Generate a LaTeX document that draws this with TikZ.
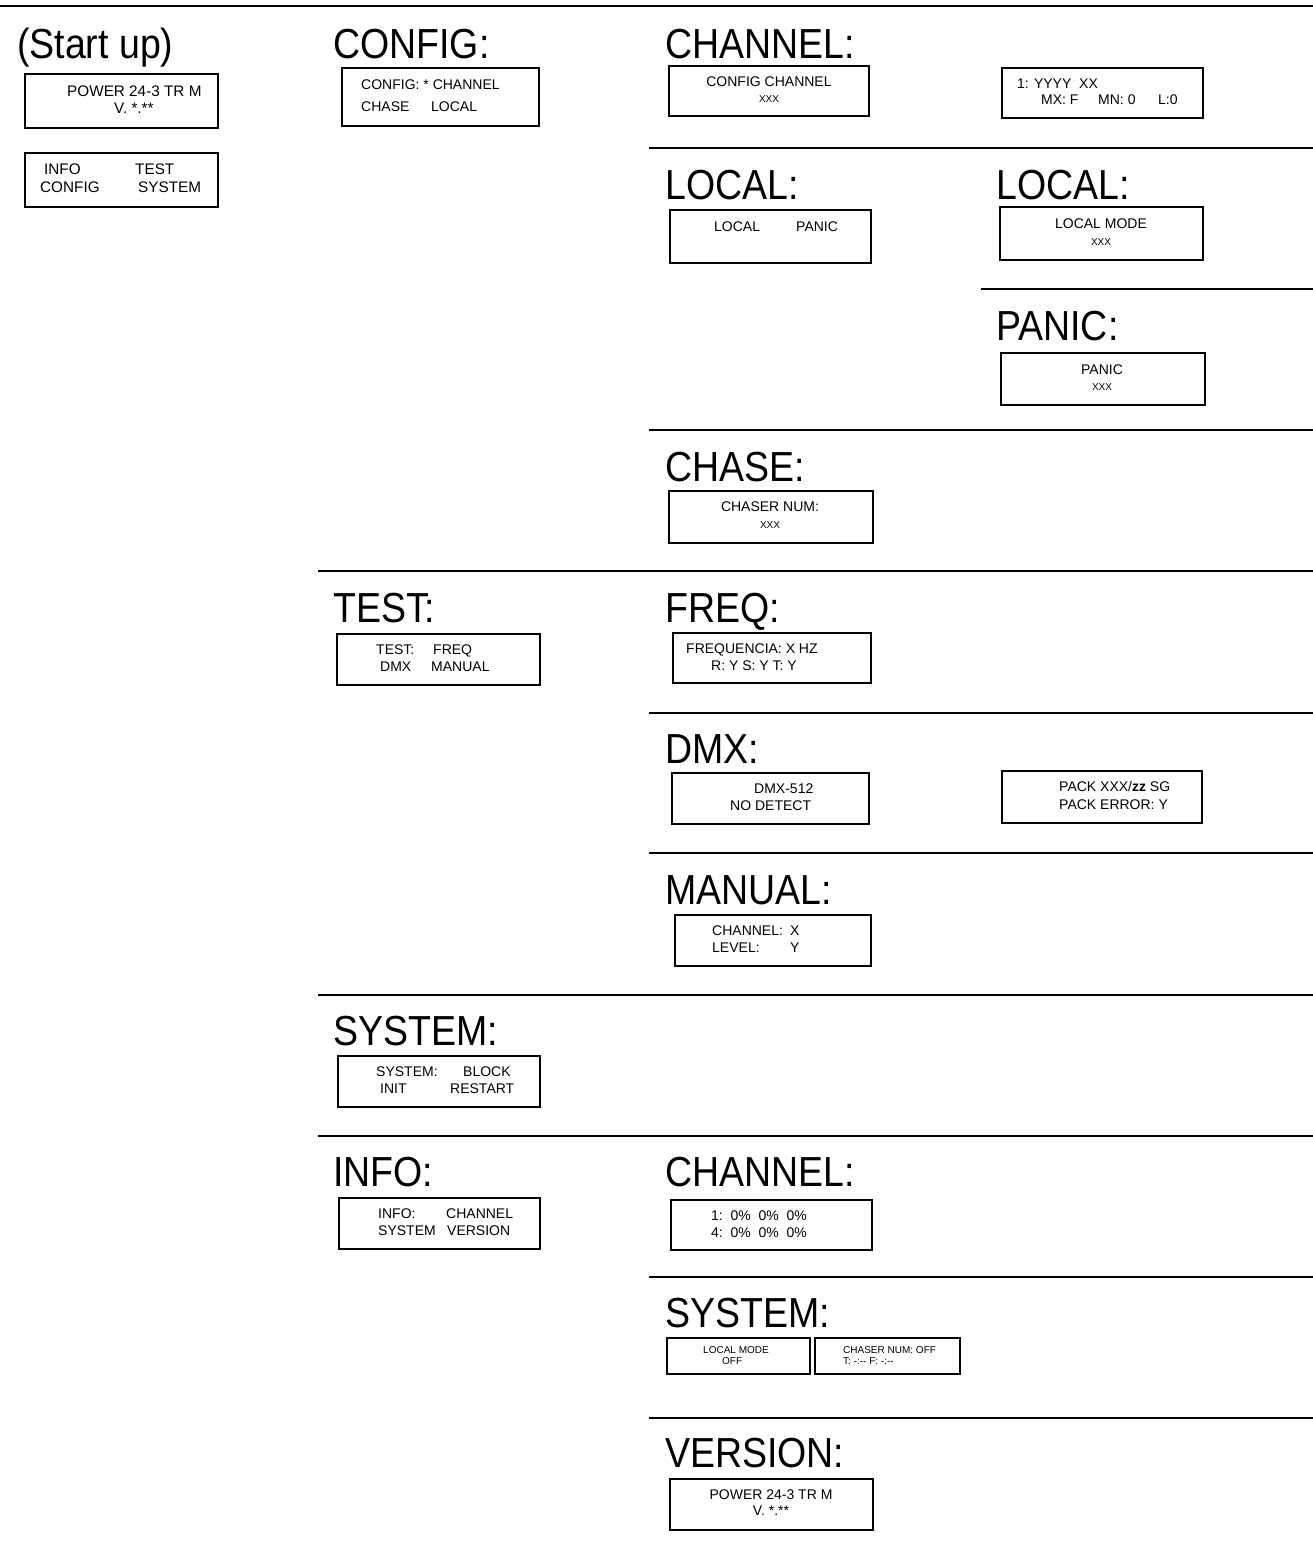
\documentclass[tikz,border=0pt]{standalone}
\usepackage{fontspec}
\setmainfont{Liberation Sans}
\usetikzlibrary{fit}
\newcommand\ttlfont{\fontsize{37.5}{40}\selectfont}
\newcommand\ttl[1]{\scalebox{1}[1.12]{#1}}
\tikzset{
  sepline/.style={line width=2pt},
  ttlnode/.style={anchor=base west, inner sep=0pt, font=\ttlfont},
  lcd/.style={draw, line width=1.6pt, inner sep=0pt},
  txt/.style={anchor=base west, inner sep=0pt, font=\fontsize{14}{14}\selectfont},
  txtc/.style={anchor=base, inner sep=0pt, font=\fontsize{14}{14}\selectfont},
  big/.style={font=\fontsize{15.3}{15}\selectfont},
  tiny/.style={font=\fontsize{10}{10}\selectfont},
  xs/.style={anchor=base, inner sep=0pt, font=\fontsize{10}{10}\selectfont},
}
\begin{document}
\begin{tikzpicture}[x=1pt,y=-1pt]
\useasboundingbox (0,0) rectangle (1313,1556);

% separator lines
\coordinate (s0a) at (0,6);      \coordinate (s0b) at (1313,6);
\coordinate (s1a) at (649,148);  \coordinate (s1b) at (1313,148);
\coordinate (s2a) at (981,289);  \coordinate (s2b) at (1313,289);
\coordinate (s3a) at (649,430);  \coordinate (s3b) at (1313,430);
\coordinate (s4a) at (318,571);  \coordinate (s4b) at (1313,571);
\coordinate (s5a) at (649,713);  \coordinate (s5b) at (1313,713);
\coordinate (s6a) at (649,853);  \coordinate (s6b) at (1313,853);
\coordinate (s7a) at (318,995);  \coordinate (s7b) at (1313,995);
\coordinate (s8a) at (318,1136); \coordinate (s8b) at (1313,1136);
\coordinate (s9a) at (649,1277); \coordinate (s9b) at (1313,1277);
\coordinate (s10a) at (649,1418); \coordinate (s10b) at (1313,1418);
\foreach \i in {0,...,10} {\draw[sepline] (s\i a) -- (s\i b);}

% titles
\node[ttlnode] (tStart) at (17,58) {\ttl{(Start up)}};
\node[ttlnode] (tConfig) at (333,58) {\ttl{CONFIG:}};
\node[ttlnode] (tChannel) at (665,58) {\ttl{CHANNEL:}};
\node[ttlnode] (tLocalA) at (665,199) {\ttl{LOCAL:}};
\node[ttlnode] (tLocalB) at (996,199) {\ttl{LOCAL:}};
\node[ttlnode] (tPanic) at (996,340) {\ttl{PANIC:}};
\node[ttlnode] (tChase) at (665,481) {\ttl{CHASE:}};
\node[ttlnode] (tTest) at (333,622) {\ttl{TEST:}};
\node[ttlnode] (tFreq) at (665,622) {\ttl{FREQ:}};
\node[ttlnode] (tDmx) at (665,763) {\ttl{DMX:}};
\node[ttlnode] (tManual) at (665,904) {\ttl{MANUAL:}};
\node[ttlnode] (tSystem) at (333,1045) {\ttl{SYSTEM:}};
\node[ttlnode] (tInfo) at (333,1186) {\ttl{INFO:}};
\node[ttlnode] (tInfoCh) at (665,1186) {\ttl{CHANNEL:}};
\node[ttlnode] (tInfoSys) at (665,1327) {\ttl{SYSTEM:}};
\node[ttlnode] (tVersion) at (665,1467) {\ttl{VERSION:}};

% boxes
\node[lcd, fit={(25,74) (218,128)}] (bPower) {};
\node[lcd, fit={(25,153) (218,207)}] (bMenu) {};
\node[lcd, fit={(342,68) (539,126)}] (bConfig) {};
\node[lcd, fit={(669,66) (869,116)}] (bChan1) {};
\node[lcd, fit={(1002,68) (1203,118)}] (bChan2) {};
\node[lcd, fit={(670,210) (871,263)}] (bLocal) {};
\node[lcd, fit={(1000,207) (1203,260)}] (bLocalMode) {};
\node[lcd, fit={(1001,353) (1205,405)}] (bPanic) {};
\node[lcd, fit={(669,491) (873,543)}] (bChase) {};
\node[lcd, fit={(337,634) (540,685)}] (bTest) {};
\node[lcd, fit={(673,633) (871,683)}] (bFreq) {};
\node[lcd, fit={(672,773) (869,824)}] (bDmx) {};
\node[lcd, fit={(1002,771) (1202,823)}] (bPack) {};
\node[lcd, fit={(675,915) (871,966)}] (bManual) {};
\node[lcd, fit={(338,1056) (540,1107)}] (bSystem) {};
\node[lcd, fit={(339,1198) (540,1249)}] (bInfo) {};
\node[lcd, fit={(671,1200) (872,1250)}] (bInfoCh) {};
\node[lcd, line width=1.3pt, fit={(667,1338) (810,1374)}] (bSysA) {};
\node[lcd, line width=1.3pt, fit={(815,1338) (960,1374)}] (bSysB) {};
\node[lcd, fit={(670,1479) (873,1530)}] (bVersion) {};

% box texts
\node[txt,big] (p1) at (67,96) {POWER 24-3 TR M};
\node[txt,big] (p2) at (114,113) {V. *.**};
\node[txt,big] (m1) at (44,174) {INFO};
\node[txt,big] (m2) at (135,174) {TEST};
\node[txt,big] (m3) at (40,192) {CONFIG};
\node[txt,big] (m4) at (138,192) {SYSTEM};

\node[txt] (c1) at (361,89) {CONFIG: * CHANNEL};
\node[txt] (c2) at (361,111) {CHASE};
\node[txt] (c3) at (431,111) {LOCAL};

\node[txtc] (ch1) at (769,86) {CONFIG CHANNEL};
\node[xs] (ch2) at (769,102) {XXX};
\node[txt] (ch3) at (1017,88) {1: YYYY\ \ XX};
\node[txt] (ch4) at (1041,104) {MX: F};
\node[txt] (ch5) at (1098,104) {MN: 0};
\node[txt] (ch6) at (1158,104) {L:0};

\node[txt] (l1) at (714,231) {LOCAL};
\node[txt] (l2) at (796,231) {PANIC};
\node[txtc] (lm1) at (1101,228) {LOCAL MODE};
\node[xs] (lm2) at (1101,245) {XXX};
\node[txtc] (pa1) at (1102,374) {PANIC};
\node[xs] (pa2) at (1102,390) {XXX};
\node[txtc] (cs1) at (770,511) {CHASER NUM:};
\node[xs] (cs2) at (770,528) {XXX};

\node[txt] (t1) at (376,654) {TEST:};
\node[txt] (t2) at (433,654) {FREQ};
\node[txt] (t3) at (380,671) {DMX};
\node[txt] (t4) at (431,671) {MANUAL};
\node[txt] (f1) at (686,653) {FREQUENCIA: X HZ};
\node[txt] (f2) at (711,670) {R: Y S: Y T: Y};
\node[txt] (d1) at (754,793) {DMX-512};
\node[txt] (d2) at (730,810) {NO DETECT};
\node[txt] (d3) at (1059,791) {PACK XXX/\textbf{zz} SG};
\node[txt] (d4) at (1059,809) {PACK ERROR: Y};
\node[txt] (mn1) at (712,935) {CHANNEL:};
\node[txt] (mn2) at (790,935) {X};
\node[txt] (mn3) at (712,952) {LEVEL:};
\node[txt] (mn4) at (790,952) {Y};

\node[txt] (sy1) at (376,1076) {SYSTEM:};
\node[txt] (sy2) at (463,1076) {BLOCK};
\node[txt] (sy3) at (380,1093) {INIT};
\node[txt] (sy4) at (450,1093) {RESTART};

\node[txt] (i1) at (378,1218) {INFO:};
\node[txt] (i2) at (446,1218) {CHANNEL};
\node[txt] (i3) at (378,1235) {SYSTEM};
\node[txt] (i4) at (447,1235) {VERSION};

\node[txt] (ic1) at (711,1220) {1:\ \ 0\%\ \ 0\%\ \ 0\%};
\node[txt] (ic2) at (711,1237) {4:\ \ 0\%\ \ 0\%\ \ 0\%};

\node[txt,tiny] (sa1) at (703,1353) {LOCAL MODE};
\node[txt,tiny] (sa2) at (722,1364) {OFF};
\node[txt,tiny] (sb1) at (843,1353) {CHASER NUM: OFF};
\node[txt,tiny] (sb2) at (843,1364) {T: -:-{}- F: -:-{}-};

\node[txtc] (v1) at (771,1499) {POWER 24-3 TR M};
\node[txtc] (v2) at (771,1515) {V. *.**};
\end{tikzpicture}
\end{document}
